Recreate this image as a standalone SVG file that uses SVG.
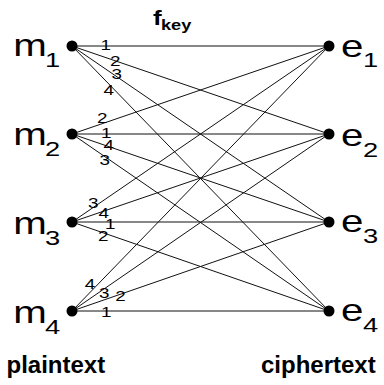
<svg xmlns="http://www.w3.org/2000/svg" width="384" height="385" viewBox="0 0 384 385">
<style>
.edge{stroke:#111;stroke-width:1;fill:none}
.dot{fill:#000}
.lbl{font-family:"Liberation Sans",Arial,sans-serif;fill:#000}
.big{font-size:31px}
.sub{font-size:21px}
.num{font-size:14.5px;text-anchor:middle}
.bold{font-family:"Liberation Sans",Arial,sans-serif;font-weight:bold;fill:#000}
</style>
<rect width="384" height="385" fill="#fff"/>
<g id="connectors">
<line class="edge" x1="72" y1="46" x2="329" y2="46"/>
<line class="edge" x1="72" y1="46" x2="329" y2="134"/>
<line class="edge" x1="72" y1="46" x2="329" y2="222"/>
<line class="edge" x1="72" y1="46" x2="329" y2="311"/>
<line class="edge" x1="72" y1="134" x2="329" y2="46"/>
<line class="edge" x1="72" y1="134" x2="329" y2="134"/>
<line class="edge" x1="72" y1="134" x2="329" y2="222"/>
<line class="edge" x1="72" y1="134" x2="329" y2="311"/>
<line class="edge" x1="72" y1="222" x2="329" y2="46"/>
<line class="edge" x1="72" y1="222" x2="329" y2="134"/>
<line class="edge" x1="72" y1="222" x2="329" y2="222"/>
<line class="edge" x1="72" y1="222" x2="329" y2="311"/>
<line class="edge" x1="72" y1="311" x2="329" y2="46"/>
<line class="edge" x1="72" y1="311" x2="329" y2="134"/>
<line class="edge" x1="72" y1="311" x2="329" y2="222"/>
<line class="edge" x1="72" y1="311" x2="329" y2="311"/>
</g>
<g id="edge-labels" class="lbl">
<text class="num" transform="translate(105.8,49.5) scale(1.3,1)">1</text>
<text class="num" transform="translate(115.3,66) scale(1.3,1)">2</text>
<text class="num" transform="translate(116.7,79.3) scale(1.3,1)">3</text>
<text class="num" transform="translate(108.7,95) scale(1.3,1)">4</text>
<text class="num" transform="translate(102.3,122.5) scale(1.3,1)">2</text>
<text class="num" transform="translate(106.3,138) scale(1.3,1)">1</text>
<text class="num" transform="translate(108.7,150) scale(1.3,1)">4</text>
<text class="num" transform="translate(104.7,165) scale(1.3,1)">3</text>
<text class="num" transform="translate(93.3,208) scale(1.3,1)">3</text>
<text class="num" transform="translate(103.8,218) scale(1.3,1)">4</text>
<text class="num" transform="translate(110.3,229) scale(1.3,1)">1</text>
<text class="num" transform="translate(103.3,240.5) scale(1.3,1)">2</text>
<text class="num" transform="translate(90,289) scale(1.3,1)">4</text>
<text class="num" transform="translate(104.3,298) scale(1.3,1)">3</text>
<text class="num" transform="translate(120.5,300.7) scale(1.3,1)">2</text>
<text class="num" transform="translate(106.3,317) scale(1.3,1)">1</text>
</g>
<g id="m1"><circle class="dot" cx="72" cy="46" r="5.5"/><text class="lbl big" transform="translate(13.3,56) scale(1.3,1)">m</text><text class="lbl sub" transform="translate(45,67) scale(1.3,1)">1</text></g>
<g id="m2"><circle class="dot" cx="72" cy="134" r="5.5"/><text class="lbl big" transform="translate(13.3,145) scale(1.3,1)">m</text><text class="lbl sub" transform="translate(45,156) scale(1.3,1)">2</text></g>
<g id="m3"><circle class="dot" cx="72" cy="222" r="5.5"/><text class="lbl big" transform="translate(13.3,234) scale(1.3,1)">m</text><text class="lbl sub" transform="translate(45,245) scale(1.3,1)">3</text></g>
<g id="m4"><circle class="dot" cx="72" cy="311" r="5.5"/><text class="lbl big" transform="translate(13.3,323) scale(1.3,1)">m</text><text class="lbl sub" transform="translate(45,334) scale(1.3,1)">4</text></g>
<g id="e1"><circle class="dot" cx="329" cy="46" r="5.5"/><text class="lbl big" transform="translate(341,56.5) scale(1.3,1)">e</text><text class="lbl sub" transform="translate(363,67) scale(1.3,1)">1</text></g>
<g id="e2"><circle class="dot" cx="329" cy="134" r="5.5"/><text class="lbl big" transform="translate(341,146) scale(1.3,1)">e</text><text class="lbl sub" transform="translate(363,157) scale(1.3,1)">2</text></g>
<g id="e3"><circle class="dot" cx="329" cy="222" r="5.5"/><text class="lbl big" transform="translate(341,232) scale(1.3,1)">e</text><text class="lbl sub" transform="translate(363,243) scale(1.3,1)">3</text></g>
<g id="e4"><circle class="dot" cx="329" cy="311" r="5.5"/><text class="lbl big" transform="translate(341,321) scale(1.3,1)">e</text><text class="lbl sub" transform="translate(363,332) scale(1.3,1)">4</text></g>
<g id="title"><text class="bold" font-size="20" transform="translate(153,25) scale(1.3,1)">f</text><text class="bold" font-size="14" transform="translate(161,30) scale(1.3,1)">key</text></g>
<g id="captions">
<text class="bold" font-size="24" x="6.5" y="373">plaintext</text>
<text class="bold" font-size="24" x="261" y="373">ciphertext</text>
</g>
</svg>
